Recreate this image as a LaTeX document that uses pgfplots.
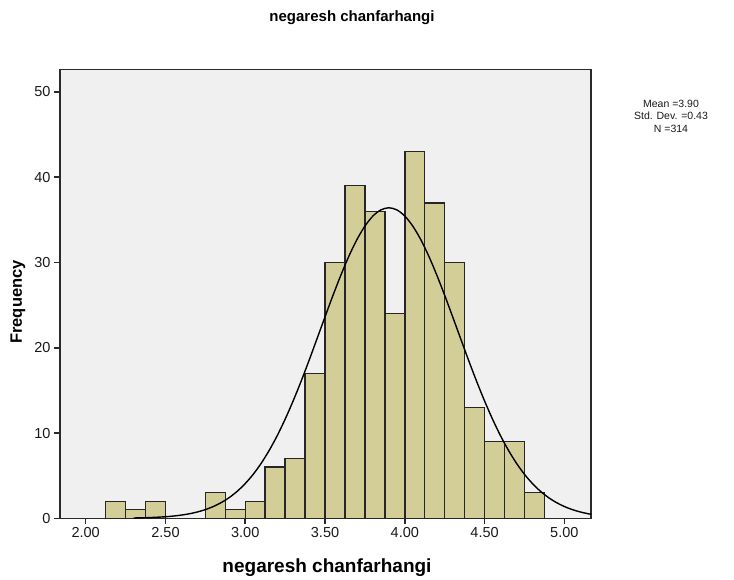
\documentclass[border=0pt]{standalone}
\usepackage{fontspec}
\setmainfont{Liberation Sans}
\usepackage{pgfplots}
\pgfplotsset{compat=1.18}
\definecolor{barfill}{HTML}{D3CE97}
\definecolor{bg}{HTML}{F0F0F0}
\definecolor{frame}{HTML}{2A2A2A}
\begin{document}
\begin{tikzpicture}[x=1pt,y=1pt]
\useasboundingbox (0,0) rectangle (734,579);
\begin{axis}[
  at={(60pt,60.7pt)}, anchor=south west,
  scale only axis, width=531pt, height=449pt,
  xmin=1.839, xmax=5.167, ymin=0, ymax=52.66,
  axis background/.style={fill=bg},
  axis line style={draw=frame, line width=1.5pt},
  xtick={2,2.5,3,3.5,4,4.5,5}, ytick={0,10,20,30,40,50},
  /pgf/number format/assume math mode=true,
  xticklabel style={/pgf/number format/.cd,fixed,fixed zerofill,precision=2},
  ticklabel style={font=\fontsize{14.5}{15}\selectfont, text=black!90},
  tick align=outside, tick pos=left,
  major tick length=6pt,
  tick style={draw=frame, line width=1.5pt},
  clip=true,
]
\addplot[ybar interval, fill=barfill, draw=black!85, line width=1.4pt] coordinates {
  (2.125,2) (2.25,1) (2.375,2) (2.5,2)
};
\addplot[ybar interval, fill=barfill, draw=black!85, line width=1.4pt] coordinates {
  (2.75,3) (2.875,1) (3.0,2) (3.125,6) (3.25,7) (3.375,17) (3.5,30) (3.625,39)
  (3.75,36) (3.875,24) (4.0,43) (4.125,37) (4.25,30) (4.375,13) (4.5,9)
  (4.625,9) (4.75,3) (4.875,3)
};
\addplot[black, line width=1.4pt, smooth, no marks] coordinates {
  (2.3,0.0359) (2.4,0.083)
  (2.5,0.182) (2.55,0.264) (2.6,0.377) (2.65,0.532) (2.7,0.742) (2.75,1.019)
  (2.8,1.382) (2.85,1.848) (2.9,2.437) (2.95,3.172) (3.0,4.077) (3.05,5.16)
  (3.1,6.454) (3.15,7.96) (3.2,9.68) (3.25,11.62) (3.3,13.76) (3.35,16.07)
  (3.4,18.52) (3.45,21.07) (3.5,23.63) (3.55,26.15) (3.6,28.55) (3.65,30.76)
  (3.7,32.69) (3.75,34.27) (3.8,35.45) (3.85,36.17) (3.9,36.42) (3.95,36.17)
  (4.0,35.45) (4.05,34.27) (4.1,32.69) (4.15,30.76) (4.2,28.55) (4.25,26.15)
  (4.3,23.63) (4.35,21.07) (4.4,18.52) (4.45,16.07) (4.5,13.76) (4.55,11.62)
  (4.6,9.68) (4.65,7.96) (4.7,6.454) (4.75,5.16) (4.8,4.077) (4.85,3.172)
  (4.9,2.437) (4.95,1.848) (5.0,1.382) (5.05,1.019) (5.1,0.742) (5.15,0.532)
  (5.2,0.377)
};
\end{axis}
\node[font=\bfseries\fontsize{15}{17}\selectfont] at (352,561) {negaresh chanfarhangi};
\node[font=\bfseries\fontsize{19}{21}\selectfont] at (327,11) {negaresh chanfarhangi};
\node[font=\bfseries\fontsize{16.5}{19}\selectfont, rotate=90] at (18,277) {Frequency};
\node[font=\fontsize{10.5}{12.5}\selectfont, align=center, text=black!90] at (671,463) {Mean =3.90\\Std. Dev. =0.43\\N =314};
\end{tikzpicture}
\end{document}
